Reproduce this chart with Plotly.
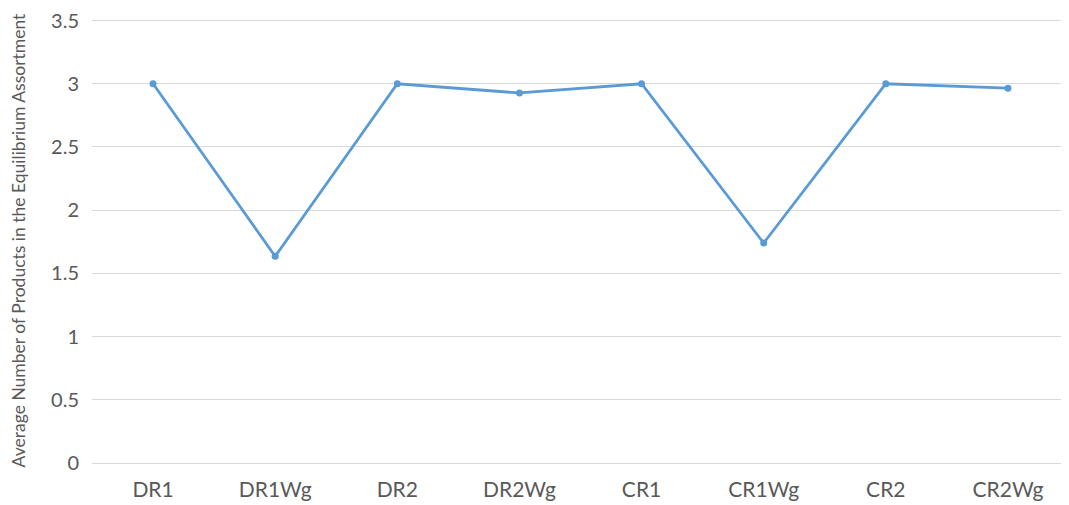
import plotly.graph_objects as go

categories = ["DR1", "DR1Wg", "DR2", "DR2Wg", "CR1", "CR1Wg", "CR2", "CR2Wg"]
values = [3.0, 1.635, 3.0, 2.927, 3.0, 1.74, 3.0, 2.965]
y_ticks = [0, 0.5, 1, 1.5, 2, 2.5, 3, 3.5]
y_tick_labels = ["0", "0.5", "1", "1.5", "2", "2.5", "3", "3.5"]

fig = go.Figure()
fig.add_trace(go.Scatter(
    x=categories, y=values, mode="lines+markers",
    line=dict(color="#5B9BD5", width=2.8),
    marker=dict(color="#5B9BD5", size=7),
    showlegend=False,
))

fig.update_layout(
    width=1061, height=497,
    margin=dict(l=84, r=0, t=6, b=42),
    paper_bgcolor="white", plot_bgcolor="white",
    font=dict(family="Lato, Open Sans, sans-serif", color="#595959"),
)
fig.update_xaxes(
    type="category", range=[-0.5, 7.5],
    showgrid=False, showline=False, zeroline=False,
    tickfont=dict(size=21, color="#595959"), ticks="",
    ticklabelstandoff=12,
)
fig.update_yaxes(
    range=[0, 3.52], tickvals=y_ticks, ticktext=y_tick_labels,
    showgrid=True, gridcolor="#D9D9D9", gridwidth=1,
    zeroline=True, zerolinecolor="#D9D9D9", zerolinewidth=1,
    showline=False, ticks="", ticklabelstandoff=12,
    ticklabeloverflow="allow",
    tickfont=dict(size=20, color="#595959"),
    title=dict(text="Average Number of Products in the Equilibrium Assortment",
               font=dict(size=17.5, color="#595959"), standoff=20),
)
fig.write_html("out.html")
